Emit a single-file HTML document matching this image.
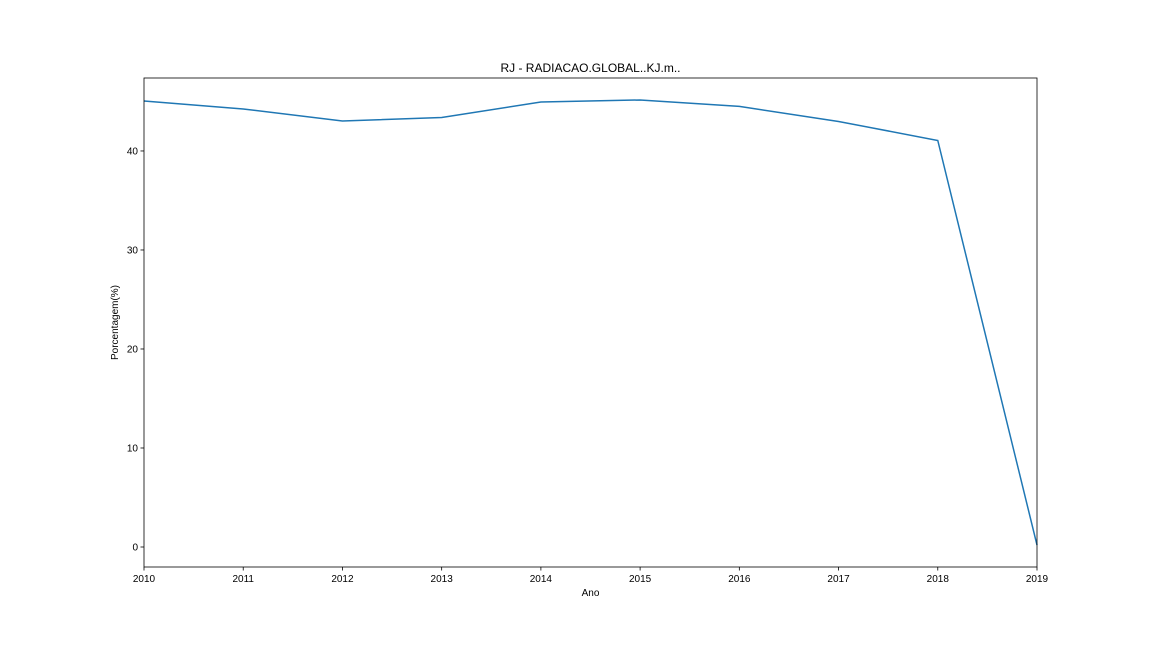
<!DOCTYPE html>
<html><head><meta charset="utf-8"><style>
body{margin:0;background:#fff;}
svg{display:block;font-family:"Liberation Sans","DejaVu Sans",sans-serif;}
</style></head><body>
<svg id="chart" width="1152" height="648">
<rect width="1152" height="648" fill="#fff"/>
</svg>
<script>
const years=[2010,2011,2012,2013,2014,2015,2016,2017,2018,2019];
const values=[45.05,44.24,43.03,43.38,44.95,45.15,44.5,42.98,41.06,0.2];
const yTicks=[0,10,20,30,40];
const L=144,R=1037,T=78,B=567,ymin=-2.02,ymax=47.37;
const xs=v=>L+(v-2010)/(2019-2010)*(R-L);
const ys=v=>B-(v-ymin)/(ymax-ymin)*(B-T);
const svg=document.getElementById('chart');
const NS='http://www.w3.org/2000/svg';
function mk(tag,attrs,txt){const e=document.createElementNS(NS,tag);for(const k in attrs)e.setAttribute(k,attrs[k]);if(txt!=null)e.textContent=txt;svg.appendChild(e);return e;}
let d=values.map((v,i)=>(i?'L':'M')+xs(years[i]).toFixed(2)+','+ys(v).toFixed(2)).join(' ');
const line=mk('path',{d:d,fill:'none',stroke:'#1f77b4','stroke-width':1.5});


const frame=mk('rect',{x:L,y:T,width:R-L,height:B-T,fill:'none',stroke:'#000','stroke-width':0.8});


years.forEach(y=>{const x=xs(y);
mk('line',{x1:x,x2:x,y1:B,y2:B+3.5,stroke:'#000','stroke-width':0.8});
const t=mk('text',{x:x,y:B+15,'font-size':10,'text-anchor':'middle'},y);

});
yTicks.forEach(v=>{const y=ys(v);
mk('line',{x1:L-3.5,x2:L,y1:y,y2:y,stroke:'#000','stroke-width':0.8});
const t=mk('text',{x:L-6,y:y+3.5,'font-size':10,'text-anchor':'end'},v);

});
const tt=mk('text',{x:(L+R)/2,y:72,'font-size':12,'text-anchor':'middle'},'RJ - RADIACAO.GLOBAL..KJ.m..');


const xt=mk('text',{x:(L+R)/2,y:596,'font-size':10,'text-anchor':'middle'},'Ano');


const yt=mk('text',{x:118,y:(T+B)/2,'font-size':10,'text-anchor':'middle',transform:'rotate(-90 118 '+((T+B)/2)+')'},'Porcentagem(%)');


</script>
</body></html>
